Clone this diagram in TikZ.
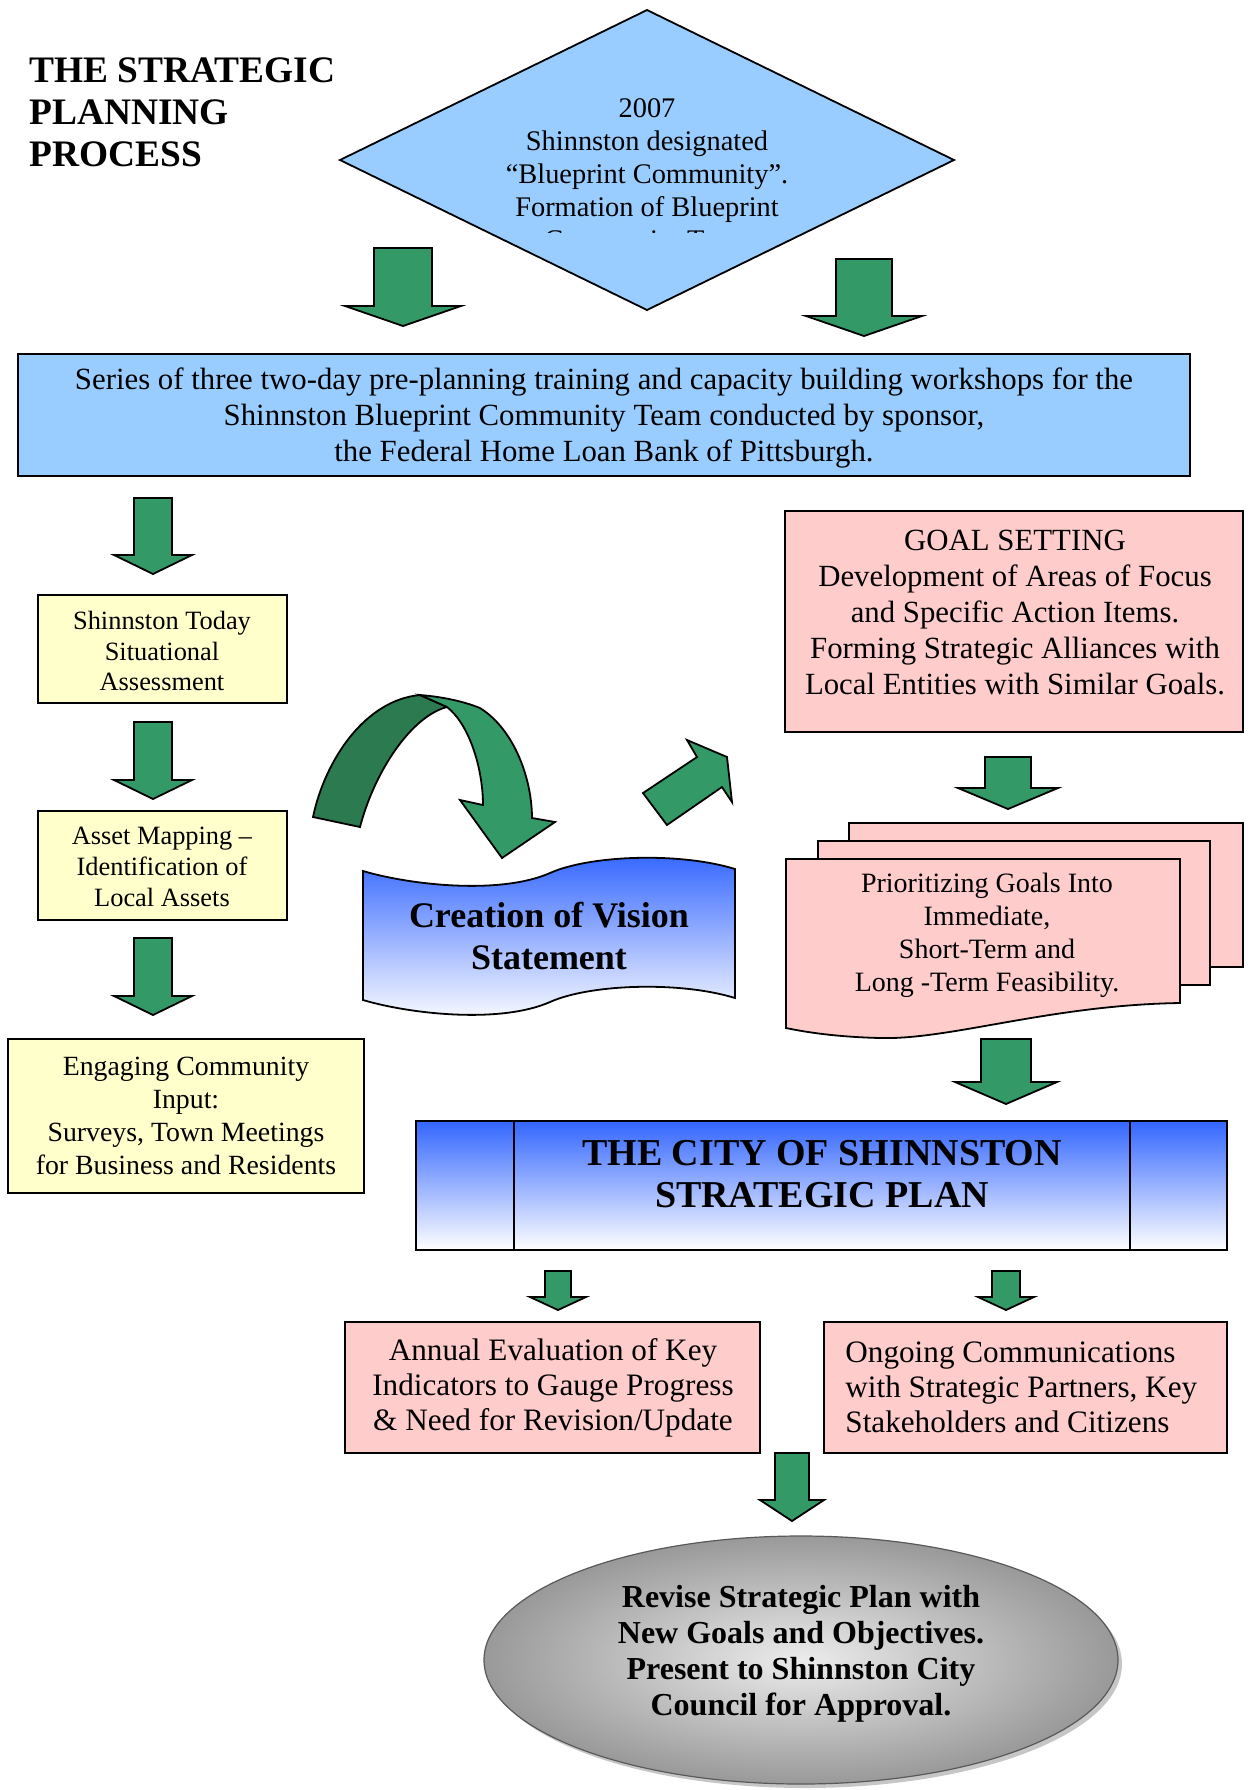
\documentclass[tikz,border=0pt]{standalone}
\usepackage{fontspec}
\setmainfont{Liberation Serif}
\definecolor{lightblue}{HTML}{99CCFF}
\definecolor{agreen}{HTML}{339966}
\definecolor{dgreen}{HTML}{2C7A4F}
\definecolor{lyellow}{HTML}{FFFFCC}
\definecolor{lpink}{HTML}{FFCCCC}
\definecolor{gradblue}{HTML}{3366FF}
\tikzset{
  box/.style={draw=black, line width=0.9pt},
  garrow/.style={fill=agreen, draw=black, line width=0.9pt, line join=miter},
  txt/.style={align=center, inner sep=0pt}
}
% 下向きの矢印: 中心x, 上端y, 軸の半幅, 頭の半幅, 頭の付け根y, 先端y
\newcommand{\downblock}[6]{%
  \draw[garrow] (#1-#3,#2) -- (#1+#3,#2) -- (#1+#3,#5) -- (#1+#4,#5)
    -- (#1,#6) -- (#1-#4,#5) -- (#1-#3,#5) -- cycle;}
\begin{document}
\begin{tikzpicture}[x=0.5pt,y=-0.5pt]
\useasboundingbox (0,0) rectangle (1249,1790);
\node[txt, anchor=west, align=left, font=\fontsize{18.7}{21}\selectfont\bfseries] (title) at (29,112)
  {THE STRATEGIC\\PLANNING\\PROCESS};
%ひし形
\draw[box, fill=lightblue] (647,10) -- (954,160) -- (647,310) -- (340,160) -- cycle;
\begin{scope}
\clip (340,0) rectangle (954,232);
\node[txt, font=\fontsize{14.2}{16.5}\selectfont] (start) at (647,177)
  {2007\\Shinnston designated\\``Blueprint Community''.\\Formation of Blueprint\\Community Team};
\end{scope}
\downblock{403}{248}{29}{58}{306}{326}
\downblock{864}{259}{28}{58}{316}{336}
%ワークショップ
\draw[box, fill=lightblue] (18,354) rectangle (1190,476);
\node[txt, font=\fontsize{15.4}{17.8}\selectfont] (workshops) at (604,418)
  {Series of three two-day pre-planning training and capacity building workshops for the\\
   Shinnston Blueprint Community Team conducted by sponsor,\\
   the Federal Home Loan Bank of Pittsburgh.};
%左の列
\downblock{153}{498}{19}{39}{555}{574}
\draw[box, fill=lyellow] (38,595) rectangle (287,703);
\node[txt, font=\fontsize{13.2}{15.4}\selectfont] (today) at (162,651)
  {Shinnston Today\\Situational\\Assessment};
\downblock{153}{722}{19}{39}{780}{799}
\draw[box, fill=lyellow] (38,811) rectangle (287,920);
\node[txt, font=\fontsize{13.2}{15.4}\selectfont] (assets) at (162,867)
  {Asset Mapping --\\Identification of\\Local Assets};
\downblock{153}{938}{19}{39}{996}{1015}
\draw[box, fill=lyellow] (8,1039) rectangle (364,1193);
\node[txt, font=\fontsize{13.9}{16.5}\selectfont] (input) at (186,1116)
  {Engaging Community\\Input:\\Surveys, Town Meetings\\for Business and Residents};
%曲がった矢印
\draw[box, fill=dgreen] (313,817) .. controls (325,760) and (365,700) .. (420,695)
  -- (447,707) .. controls (412,716) and (375,770) .. (360,827) -- cycle;
\draw[garrow] (420,695) .. controls (445,697) and (465,702) .. (480,708)
  .. controls (515,730) and (532,780) .. (532,818) -- (555,822) -- (502,858)
  -- (460,800) -- (483,805) .. controls (483,770) and (470,725) .. (447,707) -- cycle;
\draw[garrow] (643,793) -- (697,757) -- (687,740) -- (727,757) -- (732,802)
  -- (722,787) -- (667,825) -- cycle;
%ビジョン
\draw[box, top color=gradblue, bottom color=white]
  (363,871) .. controls (410,885) and (500,895) .. (550,873)
  .. controls (590,855) and (680,852) .. (735,869) -- (735,998)
  .. controls (680,981) and (590,984) .. (550,1002)
  .. controls (500,1024) and (410,1014) .. (363,1000) -- cycle;
\node[txt, font=\fontsize{18}{21}\selectfont\bfseries] (vision) at (549,936)
  {Creation of Vision\\Statement};
%目標
\draw[box, fill=lpink] (785,511) rectangle (1243,732);
\node[txt, font=\fontsize{15.4}{18}\selectfont] (goals) at (1015,613)
  {GOAL SETTING\\Development of Areas of Focus\\and Specific Action Items.\\
   Forming Strategic Alliances with\\Local Entities with Similar Goals.};
\downblock{1008}{757}{23}{50}{788}{809}
\draw[box, fill=lpink] (849,823) rectangle (1243,967);
\draw[box, fill=lpink] (818,841) rectangle (1210,985);
\draw[box, fill=lpink] (786,859) -- (1180,859) -- (1180,1003)
  .. controls (1050,1005) and (950,1040) .. (880,1038)
  .. controls (840,1037) and (810,1033) .. (786,1028) -- cycle;
\node[txt, font=\fontsize{14}{16.5}\selectfont] (priorities) at (987,935)
  {Prioritizing Goals Into\\Immediate,\\Short-Term and\\Long -Term Feasibility.};
\downblock{1006}{1039}{25}{51}{1082}{1104}
%計画
\draw[box, top color=gradblue, bottom color=white] (416,1121) rectangle (1227,1250);
\draw[box] (514,1121) -- (514,1250);
\draw[box] (1130,1121) -- (1130,1250);
\node[txt, font=\fontsize{19}{21}\selectfont\bfseries] (plan) at (822,1174)
  {THE CITY OF SHINNSTON\\STRATEGIC PLAN};
\downblock{558}{1271}{13}{28}{1297}{1310}
\downblock{1006}{1271}{14}{28}{1297}{1310}
\draw[box, fill=lpink] (345,1322) rectangle (760,1453);
\node[txt, font=\fontsize{15.6}{17.5}\selectfont] (evaluation) at (553,1388)
  {Annual Evaluation of Key\\Indicators to Gauge Progress\\\& Need for Revision/Update};
\draw[box, fill=lpink] (824,1322) rectangle (1227,1453);
\node[txt, anchor=west, align=left, font=\fontsize{15.6}{17.5}\selectfont] (communications) at (845,1387)
  {Ongoing Communications\\with Strategic Partners, Key\\Stakeholders and Citizens};
\downblock{792}{1453}{17}{32}{1500}{1521}
%楕円
\fill[gray!45] (805,1664) ellipse [x radius=158.5pt, y radius=62pt];
\draw[draw=gray!70!black, line width=0.6pt, inner color=gray!15, outer color=gray!80]
  (801,1660) ellipse [x radius=158.5pt, y radius=62pt];
\node[txt, font=\fontsize{16}{18}\selectfont\bfseries] (revise) at (801,1654)
  {Revise Strategic Plan with\\New Goals and Objectives.\\Present to Shinnston City\\Council for Approval.};
\end{tikzpicture}
\end{document}
